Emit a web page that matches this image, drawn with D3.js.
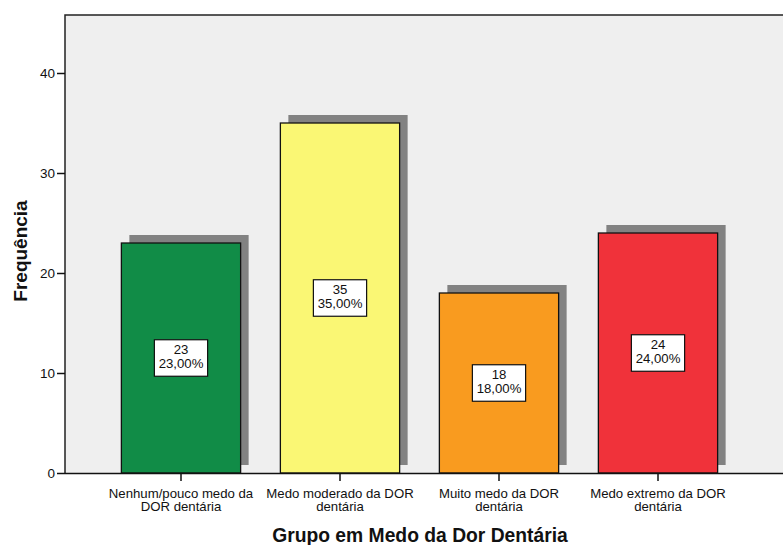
<!DOCTYPE html>
<html>
<head>
<meta charset="utf-8">
<script src="https://cdn.jsdelivr.net/npm/d3@7"></script>
<style>
  html, body { margin: 0; padding: 0; background: #fff; }
  svg { display: block; font-family: "Liberation Sans", Arial, sans-serif; }
</style>
</head>
<body>
<svg id="chart" width="783" height="545"></svg>
<script>
// Fear-of-dental-pain groups and their counts
const categories = [
  ["Nenhum/pouco medo da", "DOR dentária"],
  ["Medo moderado da DOR", "dentária"],
  ["Muito medo da DOR", "dentária"],
  ["Medo extremo da DOR", "dentária"]
];
const counts = [23, 35, 18, 24];
const percents = ["23,00%", "35,00%", "18,00%", "24,00%"];
const barColors = ["#118c47", "#faf774", "#f99b1f", "#f0323a"];
const yTicks = [0, 10, 20, 30, 40];

const svg = d3.select("#chart");
const plot = { left: 65, top: 15, right: 800, bottom: 473 };

const keys = categories.map(c => c.join(" "));
const x = d3.scaleBand()
  .domain(keys)
  .range([101.5, 737.5])
  .paddingInner(0.25)
  .paddingOuter(0.125);

const y = d3.scaleLinear()
  .domain([0, 45.8])
  .range([plot.bottom, plot.top]);

// plot background
svg.append("rect")
  .attr("x", plot.left).attr("y", plot.top)
  .attr("width", plot.right - plot.left)
  .attr("height", plot.bottom - plot.top)
  .attr("fill", "#efefef");

const data = keys.map((k, i) => ({ key: k, value: counts[i], pct: percents[i], color: barColors[i] }));

// drop shadows
const shadowOffset = 8;
svg.append("g").selectAll("rect").data(data).join("rect")
  .attr("x", d => x(d.key) + shadowOffset)
  .attr("y", d => y(d.value) - shadowOffset)
  .attr("width", x.bandwidth())
  .attr("height", d => y(0) - y(d.value))
  .attr("fill", "#828282");

// bars
svg.append("g").selectAll("rect").data(data).join("rect")
  .attr("x", d => x(d.key))
  .attr("y", d => y(d.value))
  .attr("width", x.bandwidth())
  .attr("height", d => y(0) - y(d.value))
  .attr("fill", d => d.color)
  .attr("stroke", "#111")
  .attr("stroke-width", 1.3);

// plot frame: top and left edges
svg.append("path")
  .attr("d", `M${plot.left},${plot.bottom} V${plot.top} H${plot.right}`)
  .attr("fill", "none")
  .attr("stroke", "#222")
  .attr("stroke-width", 1.5);

// y axis
const yAxis = svg.append("g")
  .attr("transform", `translate(${plot.left},0)`)
  .call(d3.axisLeft(y).tickValues(yTicks).tickSize(8).tickPadding(2).tickFormat(d3.format("d")));
yAxis.select(".domain").remove();
yAxis.selectAll(".tick line").attr("stroke", "#111").attr("stroke-width", 1.5);
yAxis.selectAll(".tick text")
  .attr("font-family", "Liberation Sans, Arial, sans-serif")
  .attr("font-size", 13.5).attr("fill", "#111");

// x axis
const xAxis = svg.append("g")
  .attr("transform", `translate(0,${plot.bottom})`)
  .call(d3.axisBottom(x).tickSize(8).tickFormat(""));
xAxis.select(".domain").attr("d", `M${plot.left},0.5H${plot.right}`).attr("stroke", "#111").attr("stroke-width", 1.5);
xAxis.selectAll(".tick line").attr("stroke", "#111").attr("stroke-width", 1.5);
xAxis.selectAll(".tick text").remove();

// x category labels (two lines each)
const catLabels = svg.append("g")
  .attr("font-size", 13.2).attr("fill", "#111").attr("text-anchor", "middle");
categories.forEach((lines, i) => {
  const cx = x(keys[i]) + x.bandwidth() / 2;
  lines.forEach((ln, j) => {
    catLabels.append("text").attr("x", cx).attr("y", 497.5 + j * 13.3).text(ln);
  });
});

// value labels in boxes at the middle of each bar
const labelG = svg.append("g");
data.forEach(d => {
  const cx = x(d.key) + x.bandwidth() / 2;
  const cy = y(d.value / 2);
  const g = labelG.append("g");
  const box = g.append("rect");
  const t1 = g.append("text").attr("x", cx).attr("y", cy - 3.8)
    .attr("text-anchor", "middle").attr("font-size", 13.2).attr("fill", "#111").text(d.value);
  const t2 = g.append("text").attr("x", cx).attr("y", cy + 9.6)
    .attr("text-anchor", "middle").attr("font-size", 13.2).attr("fill", "#111").text(d.pct);
  const w = Math.max(t1.node().getComputedTextLength(), t2.node().getComputedTextLength()) + 8.5;
  const h = 36.5;
  box.attr("x", cx - w / 2).attr("y", cy - h / 2).attr("width", w).attr("height", h)
    .attr("fill", "#fff").attr("stroke", "#111").attr("stroke-width", 1.2);
});

// axis titles
svg.append("text")
  .attr("x", 420).attr("y", 542)
  .attr("text-anchor", "middle")
  .attr("font-size", 19.3).attr("font-weight", "bold").attr("fill", "#111")
  .text("Grupo em Medo da Dor Dentária");

svg.append("text")
  .attr("transform", "translate(27,251) rotate(-90)")
  .attr("text-anchor", "middle")
  .attr("font-size", 19).attr("font-weight", "bold").attr("fill", "#111")
  .text("Frequência");
</script>
</body>
</html>
